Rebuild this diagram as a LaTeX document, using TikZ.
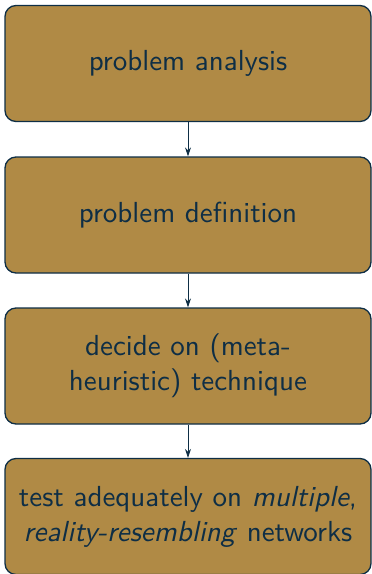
\documentclass[tikz,border=0pt]{standalone}
\usepackage{fontspec}
\setsansfont{lmsans10-regular.otf}[ItalicFont=lmsans10-oblique.otf]
\usetikzlibrary{arrows.meta}
\definecolor{boxfill}{HTML}{B08A45}
\definecolor{ink}{HTML}{0E2E45}
\tikzset{
  stagebox/.style={draw=ink, line width=1.3pt, fill=boxfill, rounded corners=11pt,
    minimum width=366pt, minimum height=116pt, text width=356pt, align=center,
    text=ink, font=\sffamily\fontsize{29}{35}\selectfont, inner sep=0pt},
  flow/.style={draw=ink, line width=0.8pt, -{Stealth[length=9pt,width=6pt]}}
}
\begin{document}
\begin{tikzpicture}[x=1pt,y=-1pt]
  \useasboundingbox (0,0) rectangle (372,574);
  \node[stagebox] (s1) at (188,63.5) {problem analysis};
  \node[stagebox] (s2) at (188,215) {problem definition};
  \node[stagebox] (s3) at (188,366) {decide on (meta-\\heuristic) technique};
  \node[stagebox] (s4) at (188,516.5) {test adequately on \textit{multiple},\\\textit{reality-resembling} networks};
  \draw[flow] (s1) -- (s2);
  \draw[flow] (s2) -- (s3);
  \draw[flow] (s3) -- (s4);
\end{tikzpicture}
\end{document}
